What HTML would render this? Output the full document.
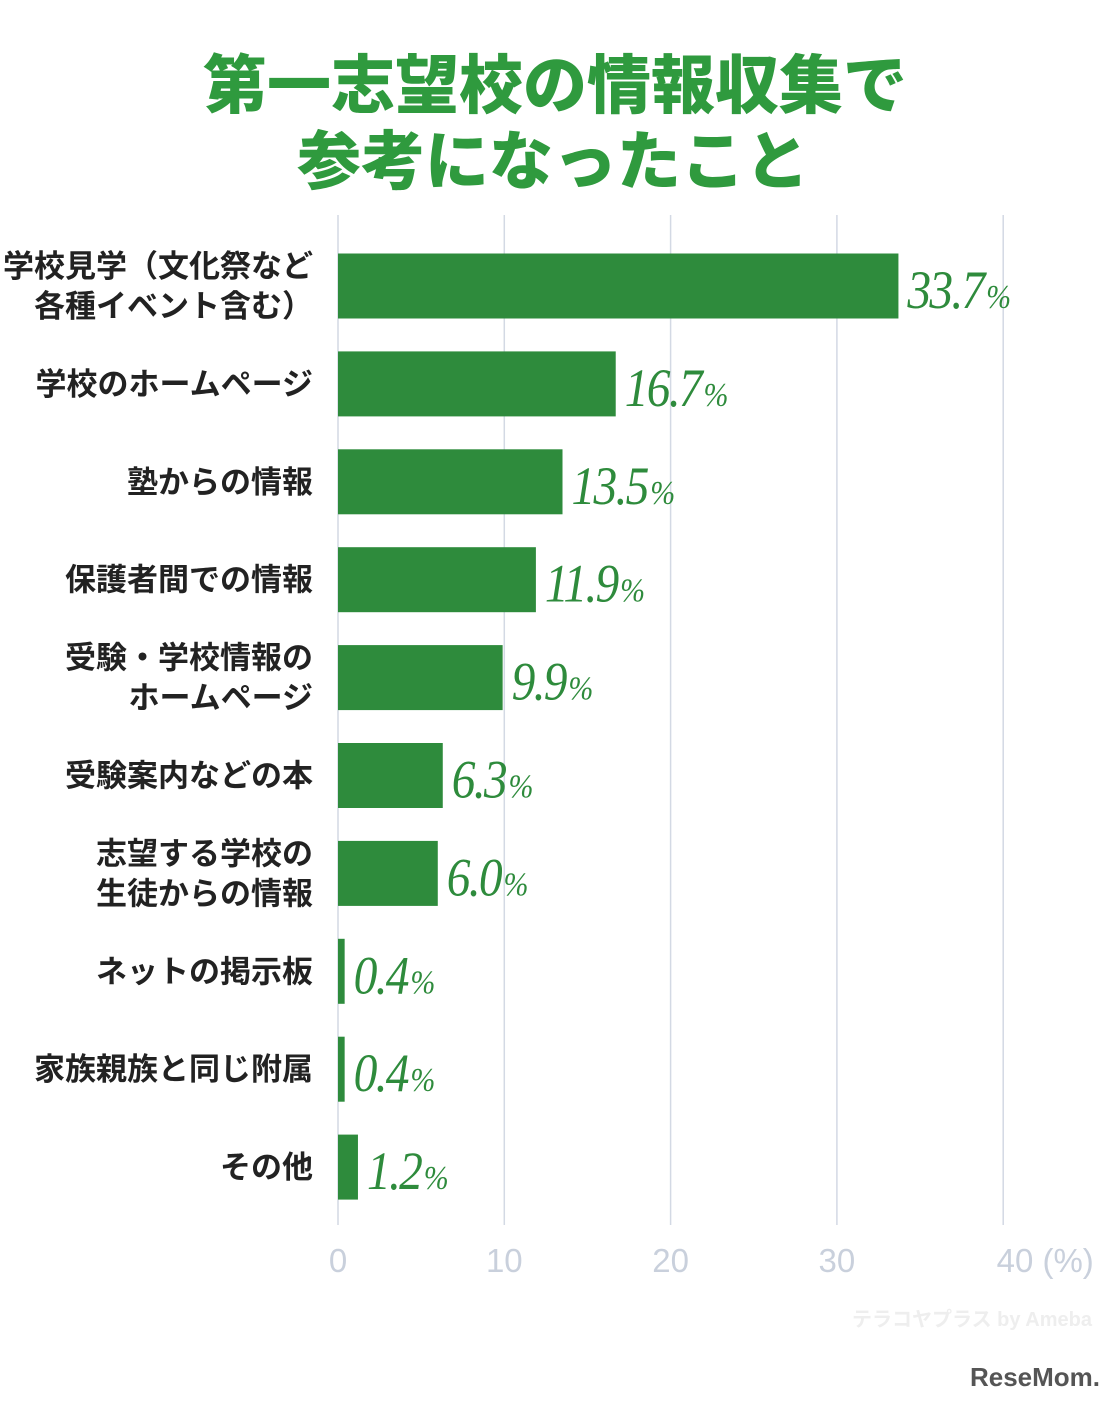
<!DOCTYPE html>
<html><head><meta charset="utf-8"><style>
body{margin:0;background:#fff;width:1115px;height:1400px;overflow:hidden;font-family:"Liberation Sans","Noto Sans CJK JP",sans-serif}
</style></head><body>
<svg width="1115" height="1400" id="c" xmlns="http://www.w3.org/2000/svg">
<g font-family="'Liberation Sans','Noto Sans CJK JP',sans-serif" font-weight="900" fill="#2f9a3e" font-size="64" text-anchor="middle">
<text x="555" y="108">第一志望校の情報収集で</text>
<text x="553" y="184">参考になったこと</text>
</g>
<g id="grid"></g><g id="bars"></g><g id="labels"></g><g id="vals"></g><g id="ticks"></g>
<text x="1092" y="1326" text-anchor="end" font-size="20" font-weight="bold" fill="#eeeeee">テラコヤプラス by Ameba</text>
<text x="1100" y="1386" text-anchor="end" font-size="26" font-weight="bold" fill="#555">ReseMom.</text>
</svg>
<script>
const categories=[["学校見学（文化祭など","各種イベント含む）"],["学校のホームページ"],["塾からの情報"],["保護者間での情報"],["受験・学校情報の","ホームページ"],["受験案内などの本"],["志望する学校の","生徒からの情報"],["ネットの掲示板"],["家族親族と同じ附属"],["その他"]];
const values=[33.7,16.7,13.5,11.9,9.9,6.3,6.0,0.4,0.4,1.2];
const ticks=[0,10,20,30,40];
const NS="http://www.w3.org/2000/svg";
const x0=338,xs=16.63;
const X=v=>x0+v*xs;
const Y=i=>286+i*97.9;
function mk(t,a,p){const e=document.createElementNS(NS,t);for(const k in a)e.setAttribute(k,a[k]);document.getElementById(p).appendChild(e);return e;}
ticks.forEach(t=>{
 const l=mk('line',{x1:X(t),x2:X(t),y1:215,y2:1225,stroke:'#d3d9e4','stroke-width':1.5},'grid');
 
 
 const tx=mk('text',{x:X(t),y:1272,'text-anchor':'middle','font-size':33,fill:'#c9d0dc'},'ticks');
 tx.textContent=t===40?'40 (%)':String(t);
 if(t===40)tx.setAttribute('x',X(t)+42);
 
 
});
values.forEach((v,i)=>{
 const cy=Y(i);
 const r=mk('rect',{x:x0,y:cy-32.5,width:Math.max(v*xs,4),height:65,fill:'#2e8b3c'},'bars');
 
 
 const lines=categories[i];
 const g=mk('text',{x:313,'text-anchor':'end','font-size':31,fill:'#222','font-weight':'bold'},'labels');
 
 
 lines.forEach((s,k)=>{const ts=document.createElementNS(NS,'tspan');ts.setAttribute('x',313);ts.setAttribute('y',cy+11+(k-(lines.length-1)/2)*40);ts.textContent=s;g.appendChild(ts);});
 const ex=X(v)+Math.max(v*xs,4)-v*xs+9;
 const vt=mk('text',{transform:`translate(${ex},${cy+22}) scale(0.88,1)`,'font-family':"'Liberation Serif',serif",'font-style':'italic','font-size':54,fill:'#2e8b3c','letter-spacing':-2},'vals');
 
 
 vt.textContent=v.toFixed(1);
 const p=document.createElementNS(NS,'tspan');p.setAttribute('font-size',34);p.setAttribute('dx',3);p.textContent='%';vt.appendChild(p);
});
</script>
</body></html>
